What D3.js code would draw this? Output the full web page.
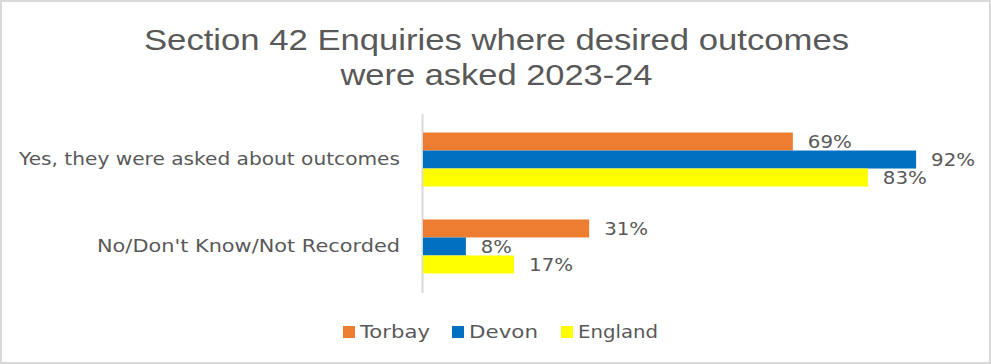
<!DOCTYPE html>
<html><head><meta charset="utf-8">
<script src="https://cdn.jsdelivr.net/npm/d3@7"></script>
<style>html,body{margin:0;padding:0;background:#fff;}</style>
</head><body>
<svg id="c" width="991" height="364"></svg>
<script>
const categories = ["Yes, they were asked about outcomes", "No/Don't Know/Not Recorded"];
const seriesNames = ["Torbay", "Devon", "England"];
const torbay = [69, 31];
const devon = [92, 8];
const england = [83, 17];
const colors = ["#ED7D31", "#0070C0", "#FFFF00"];
const titleLines = ["Section 42 Enquiries where desired outcomes", "were asked 2023-24"];

const series = [torbay, devon, england];
const svg = d3.select("#c");
const W = 991, H = 364;

svg.append("rect").attr("x",1).attr("y",1).attr("width",W-2).attr("height",H-2)
  .attr("fill","#fff").attr("stroke","#d9d9d9").attr("stroke-width",2);

const font = "'DejaVu Sans', sans-serif";
const tcol = "#595959";

// title
const titleW = [705, 312];
svg.selectAll("text.title").data(titleLines).join("text")
  .attr("class","title")
  .attr("x", 496.5).attr("y", (d,i)=> 50 + i*35)
  .attr("text-anchor","middle")
  .attr("font-family", "'Liberation Sans', sans-serif")
  .attr("font-size", 29).attr("fill", tcol)
  .attr("textLength",(d,i)=>titleW[i]).attr("lengthAdjust","spacingAndGlyphs")
  .text(d=>d);

const x = d3.scaleLinear().domain([0, 100]).range([423, 423 + 536]);
const y0 = d3.scaleBand().domain(categories).range([116, 290]).paddingInner(0.379).paddingOuter(0.19);
const y1 = d3.scaleBand().domain(seriesNames).range([0, y0.bandwidth()]);

// axis line
svg.append("line").attr("x1",x(0)-0.5).attr("x2",x(0)-0.5).attr("y1",114).attr("y2",293)
  .attr("stroke","#d9d9d9").attr("stroke-width",2);

const catW = [381, 303];
svg.selectAll("text.cat").data(categories).join("text")
  .attr("class","cat")
  .attr("x", 400).attr("y", d=> y0(d)+y0.bandwidth()/2)
  .attr("dy","0.35em")
  .attr("text-anchor","end")
  .attr("font-family", font).attr("font-size", 17).attr("fill", tcol)
  .attr("textLength",(d,i)=>catW[i]).attr("lengthAdjust","spacingAndGlyphs")
  .text(d=>d);

seriesNames.forEach((s, si) => {
  const vals = series[si];
  const g = svg.append("g");
  g.selectAll("rect").data(categories).join("rect")
    .attr("x", x(0))
    .attr("y", d => y0(d) + y1(s))
    .attr("width", (d,i) => x(vals[i]) - x(0))
    .attr("height", y1.bandwidth())
    .attr("fill", colors[si]);
  g.selectAll("text").data(categories).join("text")
    .attr("x", (d,i) => x(vals[i]) + 15)
    .attr("y", d => y0(d) + y1(s) + y1.bandwidth()/2 + 1)
    .attr("dy","0.35em")
    .attr("font-family", font).attr("font-size", 17).attr("fill", tcol)
    .attr("textLength",(d,i)=> vals[i] < 10 ? 31 : 44).attr("lengthAdjust","spacingAndGlyphs")
    .text((d,i) => vals[i] + "%");
});

// legend
const legX = [343, 452, 561];
const legW = [70, 69, 80];
const lg = svg.selectAll("g.leg").data(seriesNames).join("g").attr("class","leg")
  .attr("transform",(d,i)=>`translate(${legX[i]},332)`);
lg.append("rect").attr("x",0).attr("y",-6).attr("width",12).attr("height",12).attr("fill",(d,i)=>colors[i]);
lg.append("text").attr("x",17).attr("y",0).attr("dy","0.35em")
  .attr("font-family", font).attr("font-size", 17).attr("fill", tcol)
  .attr("textLength",(d,i)=>legW[i]).attr("lengthAdjust","spacingAndGlyphs")
  .text(d=>d);
</script>
</body></html>
